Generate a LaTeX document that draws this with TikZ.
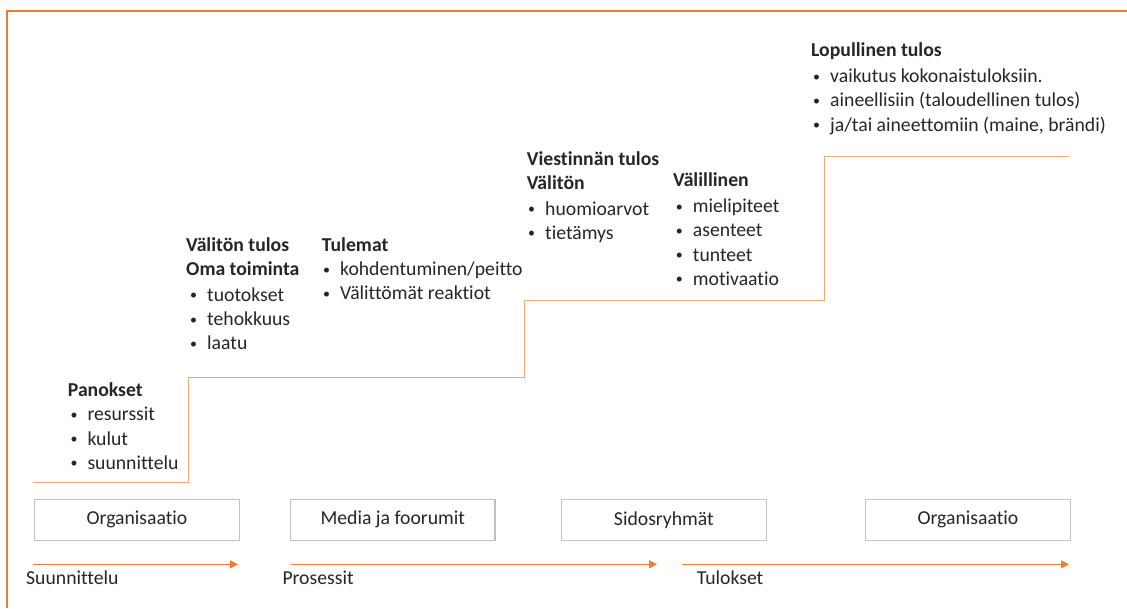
\documentclass[tikz,border=0pt]{standalone}
\usepackage{fontspec}
\setmainfont{Carlito}[Ligatures=NoCommon]
\usetikzlibrary{arrows.meta}
\definecolor{accent}{HTML}{ED7D31}
\definecolor{stairline}{HTML}{F4A978}
\definecolor{ink}{HTML}{262626}
\definecolor{boxline}{HTML}{BFBFBF}
\newcommand\smallbullet{{\fontsize{14}{14}\selectfont\raisebox{1.6pt}{\textbullet}}}
\tikzset{
  txt/.style={anchor=base west, inner sep=0pt, text=ink,
              font=\fontsize{19.7}{24}\selectfont},
  head/.style={txt, font=\fontsize{19.7}{24}\selectfont\bfseries},
  item/.style={txt, execute at begin node={\llap{\smallbullet\hspace{10pt}}}},
  stagebox/.style={draw=boxline, line width=1.3pt, minimum width=204.5pt,
                   minimum height=41pt, inner sep=0pt, text=ink,
                   font=\fontsize{19.7}{24}\selectfont},
  flow/.style={draw=accent, line width=1.1pt,
               -{Triangle[length=8pt,width=8pt]}},
}
\begin{document}
\begin{tikzpicture}[x=1pt,y=-1pt]
\useasboundingbox[fill=white] (0,0) rectangle (1127,608);

% outer frame (top and left edges)
\draw[accent, line width=1.6pt] (6.7,608) -- (6.7,10.7) -- (1127,10.7);

% staircase of result levels
\draw[stairline, line width=1pt]
  (33,482) -- (188,482) -- (188,377) -- (524,377) -- (524,300)
  -- (824,300) -- (824,156) -- (1069,156);

% Panokset
\node[head] (pan) at (67.7,396.5) {Panokset};
\node[item] (pan1) at (87.3,420.8) {resurssit};
\node[item] (pan2) at (87.3,445.1) {kulut};
\node[item] (pan3) at (87.3,469.4) {suunnittelu};

% Välitön tulos / Oma toiminta
\node[head] (vt)  at (186,251.7) {Välitön tulos};
\node[head] (oma) at (186,275.8) {Oma toiminta};
\node[item] (vt1) at (207,301.5) {tuotokset};
\node[item] (vt2) at (207,325.6) {tehokkuus};
\node[item] (vt3) at (207,349.7) {laatu};

% Tulemat
\node[head] (tul)  at (321.7,251.7) {Tulemat};
\node[item] (tul1) at (340,275.8) {kohdentuminen/peitto};
\node[item] (tul2) at (340,299.9) {Välittömät reaktiot};

% Viestinnän tulos / Välitön
\node[head] (vie)  at (526.7,165) {Viestinnän tulos};
\node[head] (val)  at (526.7,189.3) {Välitön};
\node[item] (vie1) at (545,215) {huomioarvot};
\node[item] (vie2) at (545,239.2) {tietämys};

% Välillinen
\node[head] (vll)  at (673,186.7) {Välillinen};
\node[item] (vll1) at (692.7,212.7) {mielipiteet};
\node[item] (vll2) at (692.7,236.9) {asenteet};
\node[item] (vll3) at (692.7,261.1) {tunteet};
\node[item] (vll4) at (692.7,285.3) {motivaatio};

% Lopullinen tulos
\node[head] (lop)  at (811,56.7) {Lopullinen tulos};
\node[item] (lop1) at (830,82.7) {vaikutus kokonaistuloksiin.};
\node[item] (lop2) at (830,106.9) {aineellisiin (taloudellinen tulos)};
\node[item] (lop3) at (830,131.1) {ja/tai aineettomiin (maine, brändi)};

% stage boxes
\node[stagebox] (org1) at (137,519.8)   {Organisaatio};
\node[stagebox] (med)  at (392.8,519.8) {Media ja foorumit};
\node[stagebox] (sid)  at (663.9,519.8) {Sidosryhmät};
\node[stagebox] (org2) at (967.9,519.8) {Organisaatio};

% phase arrows
\coordinate (a1s) at (33,564.3);
\coordinate (a1e) at (238,564.3);
\coordinate (a2s) at (290.5,564.3);
\coordinate (a2e) at (657,564.3);
\coordinate (a3s) at (682,564.3);
\coordinate (a3e) at (1069,564.3);
\draw[flow] (a1s) -- (a1e);
\draw[flow] (a2s) -- (a2e);
\draw[flow] (a3s) -- (a3e);

% phase labels
\node[txt] (suu) at (26,584.5)    {Suunnittelu};
\node[txt] (pro) at (282.3,584.5) {Prosessit};
\node[txt] (tlk) at (696.7,584.8) {Tulokset};
\end{tikzpicture}
\end{document}
